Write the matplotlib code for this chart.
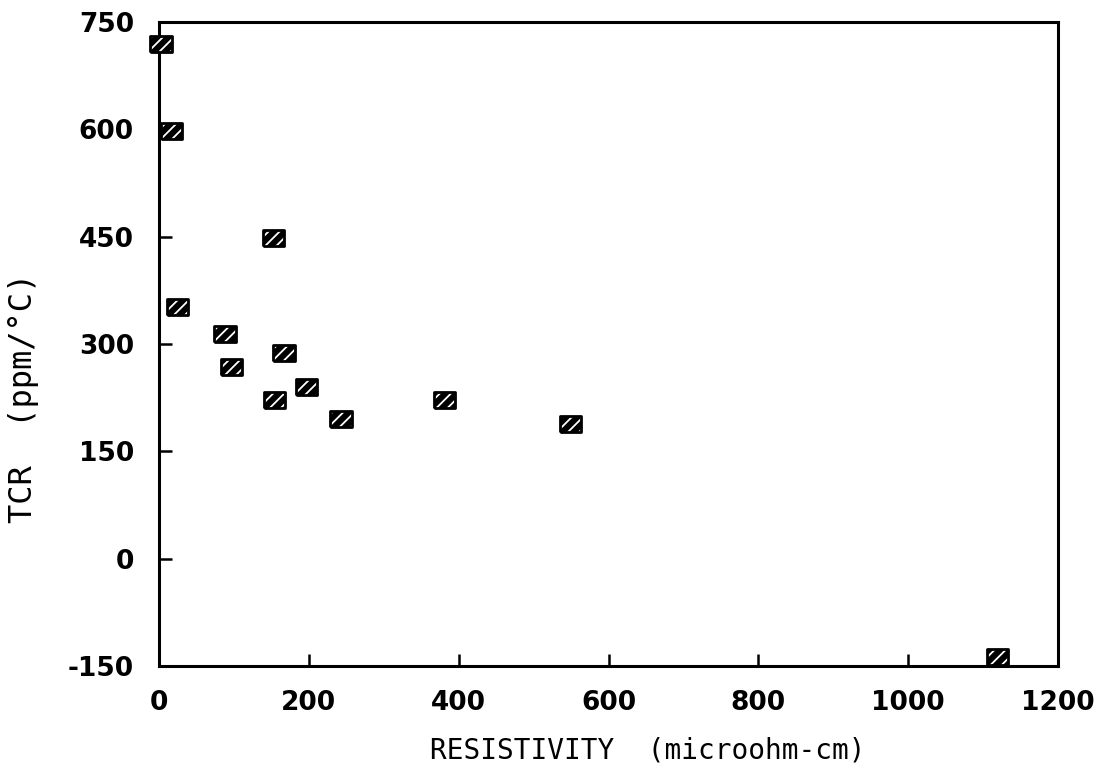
import matplotlib
matplotlib.use("Agg")
import matplotlib.pyplot as plt

# resistivity (microohm-cm) vs TCR (ppm/C)
resistivity = [3, 17, 153, 25, 88, 167, 97, 197, 154, 243, 381, 549, 1119]
tcr = [719, 598, 448, 352, 314, 287, 268, 240, 222, 195, 222, 188, -137]

xticks = [0, 200, 400, 600, 800, 1000, 1200]
yticks = [-150, 0, 150, 300, 450, 600, 750]

plt.rcParams['hatch.linewidth'] = 1.3
plt.rcParams['hatch.color'] = 'white'

fig = plt.figure(figsize=(11.02, 7.66), dpi=100)
ax = fig.add_axes([159 / 1102, 100 / 766, 899 / 1102, 644 / 766])

# wide box marker, black with white diagonal hatch
box = [(-1.35, -1), (1.35, -1), (1.35, 1), (-1.35, 1), (-1.35, -1)]
ax.scatter(resistivity, tcr, marker=box, s=240, facecolor='black',
           edgecolor='white', linewidth=0, hatch='///', zorder=3, clip_on=False)
ax.scatter(resistivity, tcr, marker=box, s=240, facecolor='none',
           edgecolor='black', linewidth=2.0, zorder=4, clip_on=False)

ax.set_xlim(0, 1200)
ax.set_ylim(-150, 750)
ax.set_xticks(xticks)
ax.set_yticks(yticks)
ax.set_xticklabels([str(v) for v in xticks])
ax.set_yticklabels([str(v) for v in yticks])

for s in ax.spines.values():
    s.set_linewidth(2.2)

ax.tick_params(axis='x', direction='in', length=9, width=1.8, pad=17,
               labelsize=19)
ax.tick_params(axis='y', direction='in', length=9, width=1.8, pad=18,
               labelsize=19)
for lab in ax.get_xticklabels() + ax.get_yticklabels():
    lab.set_fontweight('bold')

fig.text(648 / 1102, 1 - 750 / 766, "RESISTIVITY  (microohm-cm)",
         ha='center', va='center', fontsize=20, family='DejaVu Sans Mono')
fig.text(24 / 1102, 1 - 398 / 766, "TCR  (ppm/\u00b0C)", rotation=90,
         ha='center', va='center', fontsize=23, family='DejaVu Sans Mono')

fig.savefig("out.png", dpi=100)
